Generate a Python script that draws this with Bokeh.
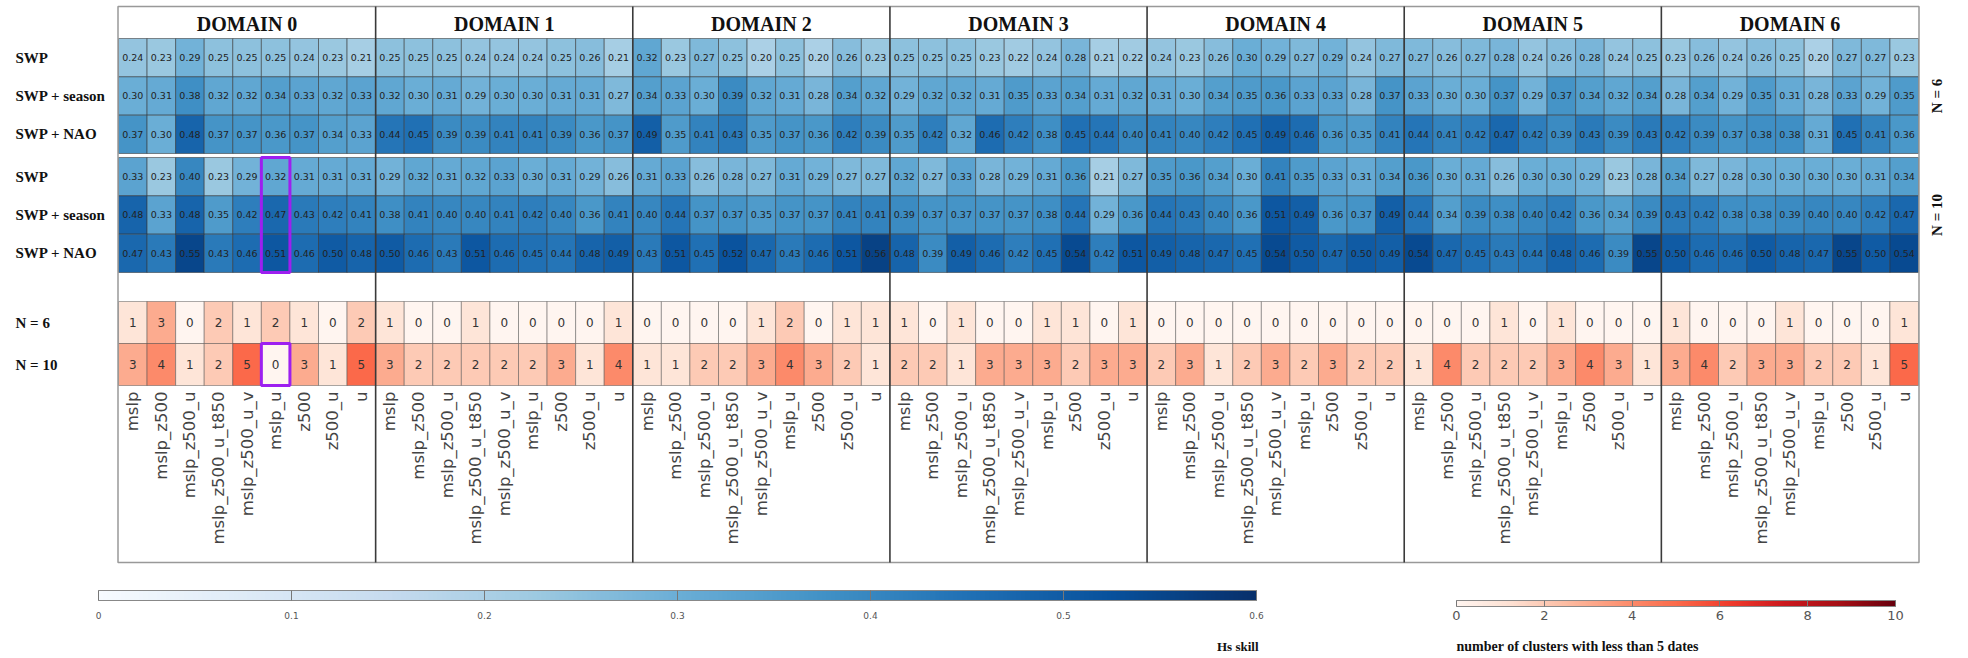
import numpy as np
from bokeh.plotting import figure
from bokeh.models import (ColumnDataSource, LinearColorMapper, ColorBar, FixedTicker,
                          Range1d, Label)
from bokeh.palettes import Blues256, Reds256
from bokeh.transform import linear_cmap
from bokeh.embed import file_html
from bokeh.resources import INLINE
from bokeh.core.properties import value

# ---------------- data ----------------
domains = ["DOMAIN 0", "DOMAIN 1", "DOMAIN 2", "DOMAIN 3", "DOMAIN 4", "DOMAIN 5", "DOMAIN 6"]
variables = ["mslp", "mslp_z500", "mslp_z500_u", "mslp_z500_u_t850", "mslp_z500_u_v",
             "mslp_u", "z500", "z500_u", "u"]
models = ["SWP", "SWP + season", "SWP + NAO"]
n_labels = ["N = 6", "N = 10"]

# Hs skill, 63 values each (7 domains x 9 variables)
skill_n6_swp = [0.24, 0.23, 0.29, 0.25, 0.25, 0.25, 0.24, 0.23, 0.21,
                0.25, 0.25, 0.25, 0.24, 0.24, 0.24, 0.25, 0.26, 0.21,
                0.32, 0.23, 0.27, 0.25, 0.20, 0.25, 0.20, 0.26, 0.23,
                0.25, 0.25, 0.25, 0.23, 0.22, 0.24, 0.28, 0.21, 0.22,
                0.24, 0.23, 0.26, 0.30, 0.29, 0.27, 0.29, 0.24, 0.27,
                0.27, 0.26, 0.27, 0.28, 0.24, 0.26, 0.28, 0.24, 0.25,
                0.23, 0.26, 0.24, 0.26, 0.25, 0.20, 0.27, 0.27, 0.23]
skill_n6_season = [0.30, 0.31, 0.38, 0.32, 0.32, 0.34, 0.33, 0.32, 0.33,
                   0.32, 0.30, 0.31, 0.29, 0.30, 0.30, 0.31, 0.31, 0.27,
                   0.34, 0.33, 0.30, 0.39, 0.32, 0.31, 0.28, 0.34, 0.32,
                   0.29, 0.32, 0.32, 0.31, 0.35, 0.33, 0.34, 0.31, 0.32,
                   0.31, 0.30, 0.34, 0.35, 0.36, 0.33, 0.33, 0.28, 0.37,
                   0.33, 0.30, 0.30, 0.37, 0.29, 0.37, 0.34, 0.32, 0.34,
                   0.28, 0.34, 0.29, 0.35, 0.31, 0.28, 0.33, 0.29, 0.35]
skill_n6_nao = [0.37, 0.30, 0.48, 0.37, 0.37, 0.36, 0.37, 0.34, 0.33,
                0.44, 0.45, 0.39, 0.39, 0.41, 0.41, 0.39, 0.36, 0.37,
                0.49, 0.35, 0.41, 0.43, 0.35, 0.37, 0.36, 0.42, 0.39,
                0.35, 0.42, 0.32, 0.46, 0.42, 0.38, 0.45, 0.44, 0.40,
                0.41, 0.40, 0.42, 0.45, 0.49, 0.46, 0.36, 0.35, 0.41,
                0.44, 0.41, 0.42, 0.47, 0.42, 0.39, 0.43, 0.39, 0.43,
                0.42, 0.39, 0.37, 0.38, 0.38, 0.31, 0.45, 0.41, 0.36]
skill_n10_swp = [0.33, 0.23, 0.40, 0.23, 0.29, 0.32, 0.31, 0.31, 0.31,
                 0.29, 0.32, 0.31, 0.32, 0.33, 0.30, 0.31, 0.29, 0.26,
                 0.31, 0.33, 0.26, 0.28, 0.27, 0.31, 0.29, 0.27, 0.27,
                 0.32, 0.27, 0.33, 0.28, 0.29, 0.31, 0.36, 0.21, 0.27,
                 0.35, 0.36, 0.34, 0.30, 0.41, 0.35, 0.33, 0.31, 0.34,
                 0.36, 0.30, 0.31, 0.26, 0.30, 0.30, 0.29, 0.23, 0.28,
                 0.34, 0.27, 0.28, 0.30, 0.30, 0.30, 0.30, 0.31, 0.34]
skill_n10_season = [0.48, 0.33, 0.48, 0.35, 0.42, 0.47, 0.43, 0.42, 0.41,
                    0.38, 0.41, 0.40, 0.40, 0.41, 0.42, 0.40, 0.36, 0.41,
                    0.40, 0.44, 0.37, 0.37, 0.35, 0.37, 0.37, 0.41, 0.41,
                    0.39, 0.37, 0.37, 0.37, 0.37, 0.38, 0.44, 0.29, 0.36,
                    0.44, 0.43, 0.40, 0.36, 0.51, 0.49, 0.36, 0.37, 0.49,
                    0.44, 0.34, 0.39, 0.38, 0.40, 0.42, 0.36, 0.34, 0.39,
                    0.43, 0.42, 0.38, 0.38, 0.39, 0.40, 0.40, 0.42, 0.47]
skill_n10_nao = [0.47, 0.43, 0.55, 0.43, 0.46, 0.51, 0.46, 0.50, 0.48,
                 0.50, 0.46, 0.43, 0.51, 0.46, 0.45, 0.44, 0.48, 0.49,
                 0.43, 0.51, 0.45, 0.52, 0.47, 0.43, 0.46, 0.51, 0.56,
                 0.48, 0.39, 0.49, 0.46, 0.42, 0.45, 0.54, 0.42, 0.51,
                 0.49, 0.48, 0.47, 0.45, 0.54, 0.50, 0.47, 0.50, 0.49,
                 0.54, 0.47, 0.45, 0.43, 0.44, 0.48, 0.46, 0.39, 0.55,
                 0.50, 0.46, 0.46, 0.50, 0.48, 0.47, 0.55, 0.50, 0.54]

# number of clusters with less than 5 dates
count_n6 = [1, 3, 0, 2, 1, 2, 1, 0, 2,
            1, 0, 0, 1, 0, 0, 0, 0, 1,
            0, 0, 0, 0, 1, 2, 0, 1, 1,
            1, 0, 1, 0, 0, 1, 1, 0, 1,
            0, 0, 0, 0, 0, 0, 0, 0, 0,
            0, 0, 0, 1, 0, 1, 0, 0, 0,
            1, 0, 0, 0, 1, 0, 0, 0, 1]
count_n10 = [3, 4, 1, 2, 5, 0, 3, 1, 5,
             3, 2, 2, 2, 2, 2, 3, 1, 4,
             1, 1, 2, 2, 3, 4, 3, 2, 1,
             2, 2, 1, 3, 3, 3, 2, 3, 3,
             2, 3, 1, 2, 3, 2, 3, 2, 2,
             1, 4, 2, 2, 2, 3, 4, 3, 1,
             3, 4, 2, 3, 3, 2, 2, 1, 5]

highlight_domain = 0
highlight_variable = "mslp_u"

blue_ticks = [0, 0.1, 0.2, 0.3, 0.4, 0.5, 0.6]
red_ticks = [0, 2, 4, 6, 8, 10]

# ---------------- layout constants (page pixels) ----------------
W, H = 1960, 652
X0, CW = 118, 1800.0 / 63
TOP = 6
TITLE_H = 32
RH = 38.33
GAP = 4
A_TOP = TOP + TITLE_H
B_TOP = A_TOP + 3 * RH + GAP
C_TOP = 301
CH = 42
LBL_TOP = 391
BOTTOM = 562
NV = len(variables)
NCOL = len(domains) * NV

SERIF = value("Liberation Serif")
SANS = value("DejaVu Sans")

p = figure(width=W, height=H, x_range=Range1d(0, W), y_range=Range1d(H, 0),
           output_backend="svg", toolbar_location=None, x_axis_type=None, y_axis_type=None,
           min_border=0, outline_line_color=None)
p.grid.visible = False

# ---- skill heatmap ----
skill_rows = [[skill_n6_swp, skill_n6_season, skill_n6_nao],
              [skill_n10_swp, skill_n10_season, skill_n10_nao]]
sx, sy, sv, st = [], [], [], []
for b, block in enumerate(skill_rows):
    top = A_TOP if b == 0 else B_TOP
    for r, arr in enumerate(block):
        for k, v in enumerate(arr):
            sx.append(X0 + (k + 0.5) * CW)
            sy.append(top + (r + 0.5) * RH)
            sv.append(v)
            st.append(f"{v:.2f}")
ssrc = ColumnDataSource(dict(x=sx, y=sy, v=sv, t=st))
blue_pal = list(reversed(Blues256))
p.rect("x", "y", width=CW, height=RH, source=ssrc,
       fill_color=linear_cmap("v", blue_pal, 0, 0.6),
       line_color="#333333", line_alpha=0.55, line_width=1)
p.text("x", "y", text="t", source=ssrc, text_align="center", text_baseline="middle",
       text_font=SANS, text_font_size="9.5px", text_color="#222222")

# ---- counts heatmap ----
cx, cy, cv, ct = [], [], [], []
for r, arr in enumerate([count_n6, count_n10]):
    for k, v in enumerate(arr):
        cx.append(X0 + (k + 0.5) * CW)
        cy.append(C_TOP + (r + 0.5) * CH)
        cv.append(v)
        ct.append(str(v))
csrc = ColumnDataSource(dict(x=cx, y=cy, v=cv, t=ct))
red_pal = list(reversed(Reds256))
p.rect("x", "y", width=CW, height=CH, source=csrc,
       fill_color=linear_cmap("v", red_pal, 0, 10),
       line_color="#444444", line_alpha=0.45, line_width=1)
p.text("x", "y", text="t", source=csrc, text_align="center", text_baseline="middle",
       text_font=SANS, text_font_size="12px", text_color="#333333")

# ---- frame and domain separators ----
p.quad(left=X0 - 0.5, right=X0 + NCOL * CW + 0.5, top=TOP, bottom=BOTTOM,
       fill_alpha=0, line_color="#999999", line_width=1.5)
sep_x = [X0 + d * NV * CW for d in range(1, len(domains))]
p.segment(x0=sep_x, y0=[TOP] * len(sep_x), x1=sep_x, y1=[BOTTOM] * len(sep_x),
          line_color="#3a3a3a", line_width=1.6)

# ---- domain titles ----
p.text(x=[X0 + (d + 0.5) * NV * CW for d in range(len(domains))],
       y=[TOP + TITLE_H / 2 + 1] * len(domains), text=domains,
       text_align="center", text_baseline="middle", text_font=SERIF,
       text_font_style="bold", text_font_size="20px", text_color="#111111")

# ---- row labels on the left ----
ly, lt = [], []
for b in range(2):
    top = A_TOP if b == 0 else B_TOP
    for r, m in enumerate(models):
        ly.append(top + (r + 0.5) * RH)
        lt.append(m)
for r, n in enumerate(n_labels):
    ly.append(C_TOP + (r + 0.5) * CH)
    lt.append(n)
p.text(x=[15] * len(lt), y=ly, text=lt, text_align="left", text_baseline="middle",
       text_font=SERIF, text_font_style="bold", text_font_size="15px", text_color="#111111")

# ---- N labels on the right (rotated) ----
p.text(x=[1936, 1936], y=[A_TOP + 1.5 * RH, B_TOP + 1.5 * RH], text=n_labels,
       angle=np.pi / 2, text_align="center", text_baseline="middle",
       text_font=SERIF, text_font_style="bold", text_font_size="15px", text_color="#111111")

# ---- x tick labels (rotated variable names) ----
vx = [X0 + (k + 0.5) * CW for k in range(NCOL)]
vt = [variables[k % NV] for k in range(NCOL)]
p.text(x=vx, y=[LBL_TOP] * NCOL, text=vt, angle=np.pi / 2, text_align="right",
       text_baseline="middle", text_font=SANS, text_font_size="16.5px", text_color="#444444")

# ---- highlight boxes ----
hk = highlight_domain * NV + variables.index(highlight_variable)
p.rect(x=[X0 + (hk + 0.5) * CW] * 2,
       y=[B_TOP + 1.5 * RH, C_TOP + 1.5 * CH],
       width=CW, height=[3 * RH, CH], fill_alpha=0,
       line_color="#9d1ff0", line_width=3)

# ---- colour bars ----
blue_mapper = LinearColorMapper(palette=blue_pal, low=0, high=0.6)
cb1 = ColorBar(color_mapper=blue_mapper, orientation="horizontal", width=1158, height=10,
               location=(98, 31), padding=0, margin=0,
               ticker=FixedTicker(ticks=blue_ticks), major_label_overrides={0: "0"},
               major_label_text_font_size="9px", major_label_text_color="#555555",
               major_label_text_font="DejaVu Sans",
               major_tick_in=10, major_tick_out=0, major_tick_line_color="#777777",
               bar_line_color="#888888", label_standoff=11,
               background_fill_alpha=0, border_line_color=None)
p.add_layout(cb1)
red_mapper = LinearColorMapper(palette=red_pal, low=0, high=10)
cb2 = ColorBar(color_mapper=red_mapper, orientation="horizontal", width=439, height=6,
               location=(1456, 30), padding=0, margin=0,
               ticker=FixedTicker(ticks=red_ticks),
               major_label_text_font_size="13px", major_label_text_color="#555555",
               major_label_text_font="DejaVu Sans",
               major_tick_in=6, major_tick_out=0, major_tick_line_color="#777777",
               bar_line_color="#888888", label_standoff=4,
               background_fill_alpha=0, border_line_color=None)
p.add_layout(cb2)

p.add_layout(Label(x=1258, y=646, text="Hs skill", text_align="right", text_baseline="middle",
                   text_font="Liberation Serif", text_font_style="bold",
                   text_font_size="13px", text_color="#111111"))
p.add_layout(Label(x=1456, y=646, text="number of clusters with less than 5 dates",
                   text_align="left", text_baseline="middle",
                   text_font="Liberation Serif", text_font_style="bold",
                   text_font_size="14px", text_color="#111111"))

open("out.html", "w").write(file_html(p, INLINE))
